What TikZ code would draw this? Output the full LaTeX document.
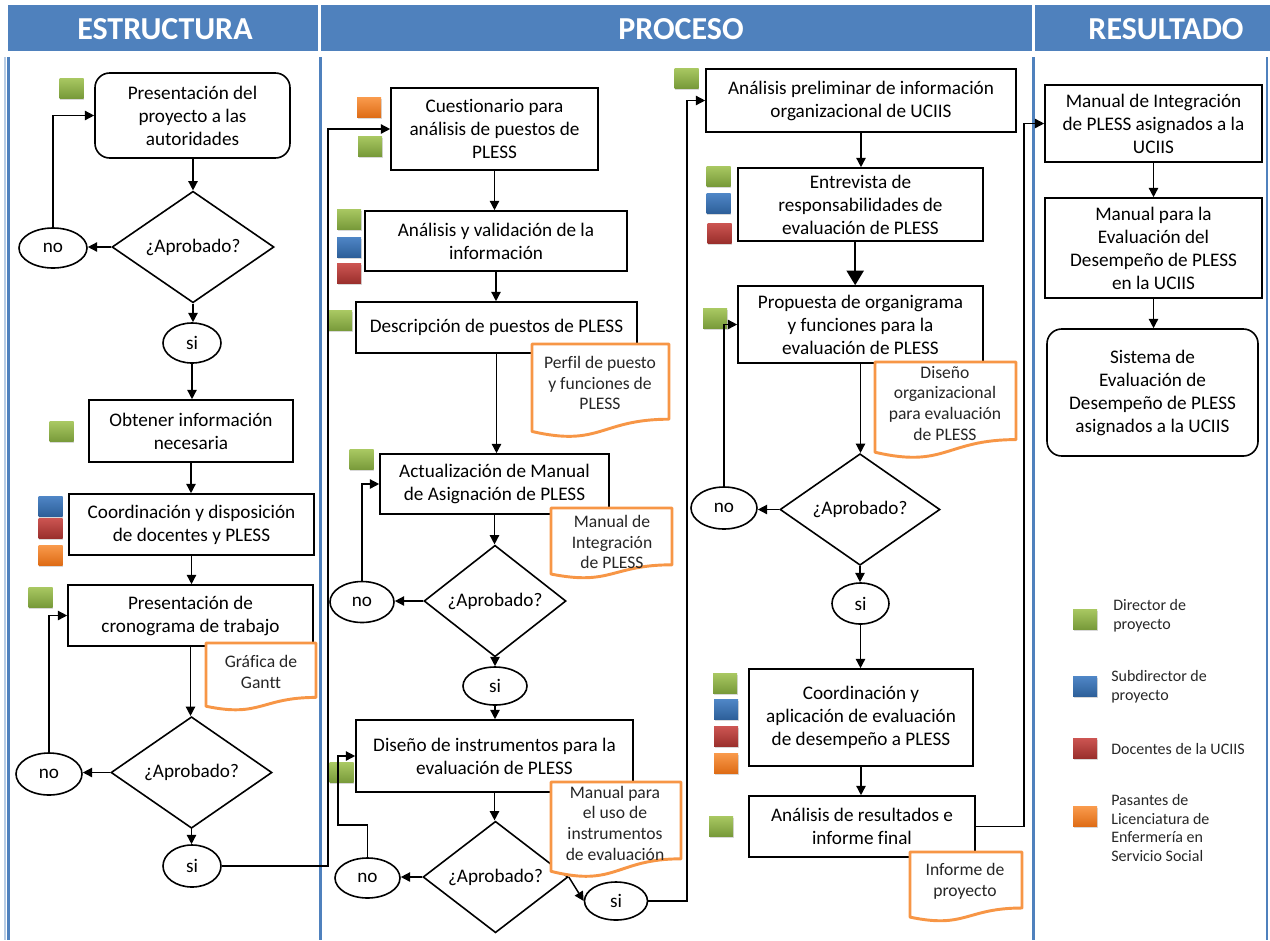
\documentclass[tikz,border=0pt]{standalone}
\usepackage{fontspec}
\setmainfont{Carlito}[Ligatures=NoCommon]
\usetikzlibrary{shapes.geometric,arrows.meta,shadows,calc}
\definecolor{hdrblue}{HTML}{4F81BD}
\definecolor{laneblue}{HTML}{4F81BD}
\definecolor{lanelight}{HTML}{B8CCE4}
\definecolor{docorange}{HTML}{F79646}
\definecolor{gTop}{HTML}{A9C862}
\definecolor{gBot}{HTML}{789A3A}
\definecolor{bTop}{HTML}{4F86C6}
\definecolor{bBot}{HTML}{2D5F99}
\definecolor{rTop}{HTML}{CC5552}
\definecolor{rBot}{HTML}{9A2F2C}
\definecolor{oTop}{HTML}{F99A4C}
\definecolor{oBot}{HTML}{DE6C16}
\newcommand\mainfnt{\fontsize{14.4}{17.25}\selectfont}
\newcommand\docfnt{\fontsize{13.2}{15.5}\selectfont}
\newcommand\legfnt{\fontsize{12}{14.2}\selectfont}
\newcommand\hdrfnt{\fontsize{24}{28}\selectfont\bfseries}
\newcommand\docshape[4]{%
  \filldraw[docline] (#1,#2) -- (#3,#2) -- (#3,{#2+0.80*(#4-#2)})
    .. controls ({(#1+#3)/2},{#2+0.80*(#4-#2)}) and ({(#1+#3)/2},{#2+1.10*(#4-#2)})
    .. (#1,{#2+0.93*(#4-#2)}) -- cycle;}
\begin{document}
\begin{tikzpicture}[x=0.75pt,y=-0.75pt,
  box/.style 2 args={draw, line width=1.2pt, fill=white, minimum width=#1*0.75pt,
     minimum height=#2*0.75pt, inner sep=0pt, align=center, font=\mainfnt},
  rbox/.style 2 args={box={#1}{#2}, rounded corners=11pt},
  dia/.style 2 args={draw, diamond, line width=1.2pt, fill=white, minimum width=#1*0.75pt,
     minimum height=#2*0.75pt, inner sep=0pt, font=\mainfnt},
  ell/.style 2 args={draw, ellipse, line width=1.2pt, fill=white, minimum width=#1*0.75pt,
     minimum height=#2*0.75pt, inner sep=0pt, font=\mainfnt},
  sqr/.style={minimum width=24*0.75pt, minimum height=20*0.75pt, inner sep=0pt,
     drop shadow={shadow xshift=0.6pt, shadow yshift=-1.4pt, opacity=0.3}},
  gsq/.style={sqr, top color=gTop, bottom color=gBot},
  bsq/.style={sqr, top color=bTop, bottom color=bBot},
  rsq/.style={sqr, top color=rTop, bottom color=rBot},
  osq/.style={sqr, top color=oTop, bottom color=oBot},
  arr/.style={line width=1.1pt, -{Triangle[length=7pt,width=7pt]}},
  bigarr/.style={line width=1.1pt, -{Triangle[length=11pt,width=13pt]}},
  docline/.style={draw=docorange, fill=white, line width=2.2pt, line join=round},
  doctext/.style={align=center, font=\docfnt, inner sep=0pt, text=black!85},
  legtext/.style={align=left, font=\legfnt, inner sep=0pt, anchor=west, text=black!85},
  hdrtext/.style={text=white, font=\hdrfnt, inner sep=0pt},
  lane/.style={draw=laneblue, line width=2.2pt},
  lanel/.style={draw=lanelight, line width=1pt}
]
\useasboundingbox (0,0) rectangle (1270,940);
% header band
\fill[hdrblue] (8,5) rectangle (318,51);
\fill[hdrblue] (321,5) rectangle (1032,51);
\fill[hdrblue] (1035,5) rectangle (1270,51);
\node[hdrtext] (hE) at (165,29) {ESTRUCTURA};
\node[hdrtext] (hP) at (681,29) {PROCESO};
\node[hdrtext] (hR) at (1166,29) {RESULTADO};
% lanes
\draw[lanel] (5,57) -- (5,940);
\draw[lane] (8.5,57) -- (8.5,940);
\draw[lane] (320.5,57) -- (320.5,940);
\draw[lane] (1033.5,57) -- (1033.5,940);
\draw[lane] (1267,57) -- (1267,940);

% ---------- role squares ----------
\node[gsq] (s1) at (71.5,88) {};
\node[gsq] (s2) at (61.5,431.5) {};
\node[bsq] (s3) at (50.5,506) {};
\node[rsq] (s4) at (50.5,528) {};
\node[osq] (s5) at (50.5,555) {};
\node[gsq] (s6) at (40.5,597) {};
\node[osq] (s7) at (369,107.5) {};
\node[gsq] (s8) at (370,146) {};
\node[gsq] (s9) at (349,219) {};
\node[bsq] (s10) at (349,247) {};
\node[rsq] (s11) at (349,273.5) {};
\node[gsq] (s12) at (340,320.5) {};
\node[gsq] (s13) at (361.5,459.5) {};
\node[gsq] (s14) at (341.5,772.5) {};
\node[gsq] (s15) at (686.5,78) {};
\node[gsq] (s16) at (718.5,176) {};
\node[bsq] (s17) at (718.5,203.5) {};
\node[rsq] (s18) at (719.5,233) {};
\node[gsq] (s19) at (715,318.5) {};
\node[gsq] (s20) at (725,683) {};
\node[bsq] (s21) at (726,709.5) {};
\node[rsq] (s22) at (726,736.5) {};
\node[osq] (s23) at (726,763) {};
\node[gsq] (s24) at (721,826) {};

% ---------- ESTRUCTURA ----------
\node[rbox={195}{85}] (b1) at (192.5,115.5) {Presentación del\\proyecto a las\\autoridades};
\node[dia={162}{100}] (d1) at (193,247) {¿Aprobado?};
\node[ell={68}{40}] (no1) at (53,248) {no};
\node[ell={58}{40}] (si1) at (192,343) {si};
\node[box={204}{62}] (b2) at (191,431) {Obtener información\\necesaria};
\node[box={245}{61}] (b3) at (191.5,524.5) {Coordinación y disposición\\de docentes y PLESS};
\node[box={245}{61}] (b4) at (190.5,615.5) {Presentación de\\cronograma de trabajo};
\node[dia={161}{101}] (d2) at (191.5,772.5) {¿Aprobado?};
\node[ell={66}{42}] (no2) at (49,774) {no};
\node[ell={58}{42}] (si2) at (192,866) {si};

% ---------- PROCESO ----------
\node[box={207}{82}] (c1) at (494.5,129) {Cuestionario para\\análisis de puestos de\\PLESS};
\node[box={262}{60}] (c2) at (496,241) {Análisis y validación de la\\información};
\node[box={281}{51}] (c3) at (496.5,327.5) {Descripción de puestos de PLESS};
\node[box={229}{60}] (c4) at (494.5,484) {Actualización de Manual\\de Asignación de PLESS};
\node[dia={142}{90}] (d3) at (495,601) {¿Aprobado?};
\node[ell={64}{41}] (no3) at (362,602) {no};
\node[ell={64}{38}] (si3) at (495,686) {si};
\node[box={277}{72}] (c5) at (494.5,756) {Diseño de instrumentos para la\\evaluación de PLESS};
\node[dia={145}{90}] (d4) at (495.5,877) {¿Aprobado?};
\node[ell={65}{40}] (no4) at (367.5,878) {no};
\node[ell={63}{38}] (si4) at (616,901) {si};

\node[box={310}{63}] (p1) at (861,100.5) {Análisis preliminar de información\\organizacional de UCIIS};
\node[box={245}{73}] (p2) at (860.5,204.5) {Entrevista de\\responsabilidades de\\evaluación de PLESS};
\node[box={245}{77}] (p3) at (860.5,324.5) {Propuesta de organigrama\\y funciones para la\\evaluación de PLESS};
\node[dia={160}{99}] (d5) at (860,509.5) {¿Aprobado?};
\node[ell={66}{42}] (no5) at (724,508) {no};
\node[ell={57}{41}] (si5) at (860.5,603.5) {si};
\node[box={224}{97}] (p4) at (861,717.5) {Coordinación y\\aplicación de evaluación\\de desempeño a PLESS};
\node[box={226}{61}] (p5) at (862,826.5) {Análisis de resultados e\\informe final};

% ---------- RESULTADO ----------
\node[box={217}{77}] (r1) at (1153.5,123.5) {Manual de Integración\\de PLESS asignados a la\\UCIIS};
\node[box={217}{100}] (r2) at (1153.5,248) {Manual para la\\Evaluación del\\Desempeño de PLESS\\en la UCIIS};
\node[rbox={211}{127}] (r3) at (1152.5,392.5) {Sistema de\\Evaluación de\\Desempeño de PLESS\\asignados a la UCIIS};

% ---------- connectors ----------
\coordinate (k2) at (328,866);
\coordinate (k4) at (338,825);
\coordinate (k4b) at (687,901);
\coordinate (k5) at (1024,826.5);

\draw[arr] (b1.south -| d1.north) -- (d1.north);
\draw[arr] (d1.west) -- (d1.west -| no1.east);
\draw[arr] (no1.north) |- (b1.west);
\draw[arr] (d1.south) -- (si1.north -| d1.south);
\draw[arr] (si1.south) -- (si1.south |- b2.north);
\draw[arr] (b2.south) -- (b2.south |- b3.north);
\draw[arr] (b3.south) -- (b3.south |- b4.north);
\draw[arr] (b4.south) -- (b4.south |- d2.north);
\draw[arr] (d2.west) -- (d2.west -| no2.east);
\draw[arr] (no2.north) |- (b4.west);
\draw[arr] (d2.south) -- (d2.south |- si2.north);
\draw[arr] (si2.east) -- (k2) |- (c1.west);

\draw[arr] (c1.south) -- (c1.south |- c2.north);
\draw[arr] (c2.south) -- (c2.south |- c3.north);
\draw[arr] (c3.south) -- (c3.south |- c4.north);
\draw[arr] (c4.south) -- (c4.south |- d3.north);
\draw[arr] (d3.west) -- (d3.west -| no3.east);
\draw[arr] (no3.north) |- (c4.west);
\draw[arr] (d3.south) -- (d3.south |- si3.north);
\draw[arr] (si3.south) -- (si3.south |- c5.north);
\draw[arr] (c5.south) -- (c5.south |- d4.north);
\draw[arr] (d4.west) -- (d4.west -| no4.east);
\draw[arr] (no4.north) |- (k4) |- (c5.west);
\draw[arr] (d4.east) -- (si4.west);
\draw[arr] (si4.east) -- (k4b) |- (p1.west);

\draw[arr] (p1.south) -- (p1.south |- p2.north);
\draw[bigarr] ([xshift=-4pt]p2.south) -- ([xshift=-4pt]p3.north);
\draw[arr] (p3.south) -- (p3.south |- d5.north);
\draw[arr] (d5.west) -- (d5.west -| no5.east);
\draw[arr] (no5.north) |- (p3.west);
\draw[arr] (d5.south) -- (d5.south |- si5.north);
\draw[arr] (si5.south) -- (si5.south |- p4.north);
\draw[arr] (p4.south) -- (p4.south |- p5.north);
\draw[arr] (p5.east) -- (k5) |- (r1.west);

\draw[arr] (r1.south) -- (r1.south |- r2.north);
\draw[arr] (r2.south) -- (r2.south |- r3.north);

% ---------- documents ----------
\docshape{206}{643}{316}{711}
\node[doctext] (g1) at (261,672) {Gráfica de\\Gantt};
\docshape{532}{344}{669}{438}
\node[doctext] (g2) at (600,383) {Perfil de puesto\\y funciones de\\PLESS};
\docshape{551}{508}{672}{579}
\node[doctext] (g3) at (612,542) {Manual de\\Integración\\de PLESS};
\docshape{551}{782}{681}{878}
\node[doctext] (g4) at (615,823) {Manual para\\el uso de\\instrumentos\\de evaluación};
\docshape{875}{362}{1016}{459}
\node[doctext] (g5) at (945,403) {Diseño\\organizacional\\para evaluación\\de PLESS};
\docshape{910}{852}{1022}{922}
\node[doctext] (g6) at (965,881) {Informe de\\proyecto};

% ---------- legend ----------
\node[gsq] (L1) at (1085,619) {};
\node[bsq] (L2) at (1085,686.5) {};
\node[rsq] (L3) at (1085,748) {};
\node[osq] (L4) at (1085,816.5) {};
\node[legtext] (t1) at (1113,616) {Director de\\proyecto};
\node[legtext] (t2) at (1111,686.5) {Subdirector de\\proyecto};
\node[legtext] (t3) at (1111,749) {Docentes de la UCIIS};
\node[legtext] (t4) at (1111,828) {Pasantes de\\Licenciatura de\\Enfermería en\\Servicio Social};
\end{tikzpicture}
\end{document}
